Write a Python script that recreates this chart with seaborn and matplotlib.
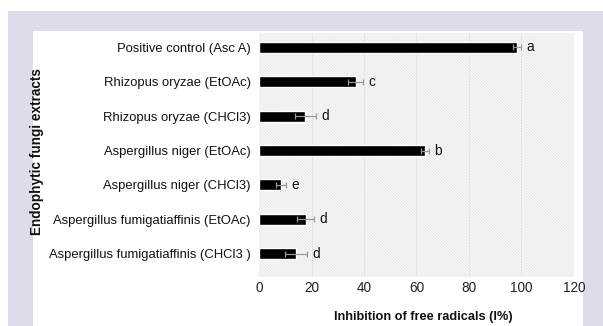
import matplotlib
matplotlib.use("Agg")
import matplotlib.pyplot as plt
import seaborn as sns
import pandas as pd
from matplotlib.patches import Rectangle

categories = [
    "Positive control (Asc A)",
    "Rhizopus oryzae (EtOAc)",
    "Rhizopus oryzae (CHCl3)",
    "Aspergillus niger (EtOAc)",
    "Aspergillus niger (CHCl3)",
    "Aspergillus fumigatiaffinis (EtOAc)",
    "Aspergillus fumigatiaffinis (CHCl3 )",
]
values = [98.3, 36.8, 17.6, 63.2, 8.3, 17.8, 14.2]
errors = [1.5, 2.8, 4.0, 1.5, 2.0, 3.2, 4.2]
letters = ["a", "c", "d", "b", "e", "d", "d"]
xticks = [0, 20, 40, 60, 80, 100, 120]

sns.set_theme(style="white")
plt.rcParams["font.family"] = ["Liberation Sans", "DejaVu Sans"]
plt.rcParams["hatch.linewidth"] = 0.5

W, H = 603, 326
fig = plt.figure(figsize=(W / 100, H / 100), dpi=100, facecolor="white")

# background frames
fig.patches.append(Rectangle((8 / W, 0), (603 - 8) / W, (H - 11) / H,
                             transform=fig.transFigure, facecolor="#dcdcea",
                             edgecolor="none", zorder=-3))
fig.patches.append(Rectangle((33 / W, 0), (583 - 33) / W, (H - 31) / H,
                             transform=fig.transFigure, facecolor="white",
                             edgecolor="none", zorder=-2))

ax = fig.add_axes([259 / W, (H - 277) / H, (574 - 259) / W, (277 - 33) / H])
ax.set_facecolor("none")
ax.add_patch(Rectangle((0, 0), 1, 1, transform=ax.transAxes, facecolor="#fbfbfb",
                       edgecolor="#e0e0e0", linewidth=0, hatch="\\" * 12, zorder=0))

df = pd.DataFrame({"cat": categories, "val": values})
sns.barplot(data=df, y="cat", x="val", orient="h", color="black",
            width=0.32, ax=ax, zorder=3, saturation=1, errorbar=None)
ax.errorbar(values, range(len(categories)), xerr=errors, fmt="none",
            ecolor="#999999", elinewidth=0.9, capsize=2.5, capthick=0.9, zorder=4)
for i, (v, e, l) in enumerate(zip(values, errors, letters)):
    ax.text(v + e + 2.0, i, l, va="center", ha="left", fontsize=9.8, color="#111111")

ax.set_xlim(0, 120)
ax.set_ylim(6.67, -0.41)
ax.set_xticks(xticks)
ax.set_xticklabels([str(t) for t in xticks])
for x in xticks[1:-1]:
    ax.axvline(x, color="#e2e2e2", lw=0.6, zorder=1)
for s in ax.spines.values():
    s.set_visible(False)
ax.tick_params(axis="x", length=0, pad=3, labelsize=9.8, labelcolor="#222222")
ax.tick_params(axis="y", length=0, pad=6, labelsize=9.4, labelcolor="#111111")
ax.set_xlabel("Inhibition of free radicals (I%)", fontweight="bold", fontsize=9.2,
              color="#111111")
ax.xaxis.set_label_coords((423 - 259) / (574 - 259), -(311 - 277) / (277 - 33))
ax.set_ylabel("")
fig.text(37 / W, (H - 152) / H, "Endophytic fungi extracts", rotation=90,
         fontweight="bold", fontsize=9.8, ha="center", va="center", color="#111111")

fig.savefig("out.png", dpi=100, facecolor="white")
